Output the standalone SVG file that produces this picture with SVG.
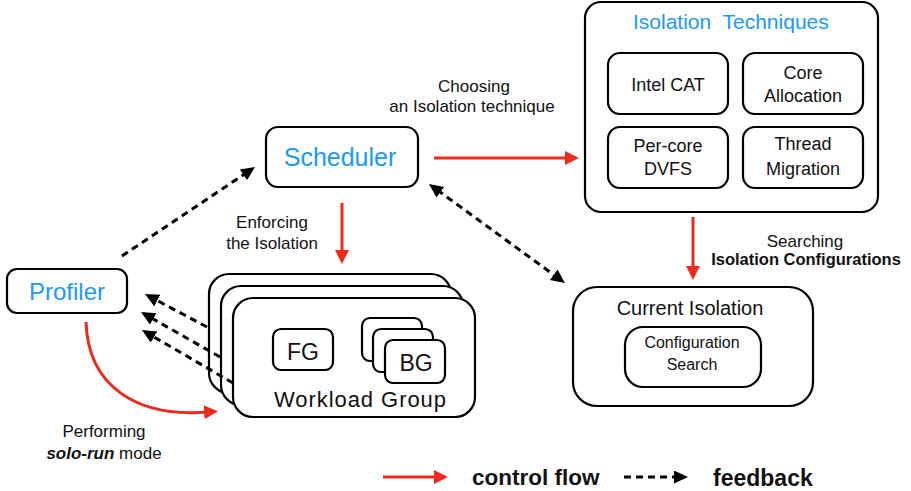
<svg xmlns="http://www.w3.org/2000/svg" width="911" height="491" viewBox="0 0 911 491">
  <style>
    text { font-family: "Liberation Sans", Arial, sans-serif; fill: #111; }
    .box { fill: #fff; stroke: #000; stroke-width: 2.2; }
    .title { fill: #1a9af5; }
    .lbl { font-size: 17px; }
    .mid { text-anchor: middle; }
    .ctrl { fill: none; stroke: #ec2a1d; stroke-width: 3; }
    .fb { fill: none; stroke: #000; stroke-width: 3; stroke-dasharray: 7 5; }
  </style>
  <defs>
    <marker id="redHead" markerUnits="userSpaceOnUse" markerWidth="16" markerHeight="16" refX="4" refY="7" orient="auto">
      <path d="M0,0 L14,7 L0,14 z" fill="#ec2a1d"/>
    </marker>
    <marker id="blackHead" markerUnits="userSpaceOnUse" markerWidth="16" markerHeight="16" refX="4" refY="6.5" orient="auto-start-reverse">
      <path d="M0,0 L14,6.5 L0,13 z" fill="#000"/>
    </marker>
  </defs>

  <!-- Scheduler -->
  <g id="scheduler">
    <rect class="box" x="266" y="127" width="152" height="60" rx="12"/>
    <text class="title mid" x="340" y="166" font-size="25">Scheduler</text>
  </g>

  <!-- Profiler -->
  <g id="profiler">
    <rect class="box" x="7" y="269" width="120" height="44" rx="10"/>
    <text class="title mid" x="67" y="300" font-size="24">Profiler</text>
  </g>

  <!-- Isolation techniques -->
  <g id="isolation-techniques">
    <rect class="box" x="585" y="2" width="293" height="210" rx="16"/>
    <text class="title" x="633" y="29" font-size="21" xml:space="preserve">Isolation  Techniques</text>
    <rect class="box" x="608" y="53" width="120" height="61" rx="12"/>
    <text class="mid" x="668" y="91" font-size="18">Intel CAT</text>
    <rect class="box" x="743" y="53" width="120" height="61" rx="12"/>
    <text class="mid" x="803" y="79" font-size="18">Core</text>
    <text class="mid" x="803" y="102" font-size="18">Allocation</text>
    <rect class="box" x="608" y="127" width="120" height="61" rx="12"/>
    <text class="mid" x="668" y="152" font-size="18">Per-core</text>
    <text class="mid" x="668" y="175" font-size="18">DVFS</text>
    <rect class="box" x="743" y="127" width="120" height="61" rx="12"/>
    <text class="mid" x="803" y="150" font-size="18">Thread</text>
    <text class="mid" x="803" y="175" font-size="18">Migration</text>
  </g>

  <!-- Workload group (stacked) -->
  <g id="workload-group">
    <rect class="box" x="209" y="274" width="242" height="119" rx="20"/>
    <rect class="box" x="221" y="286" width="242" height="119" rx="20"/>
    <rect class="box" x="233" y="298" width="242" height="119" rx="20"/>
    <rect class="box" x="273" y="329" width="60" height="41" rx="8"/>
    <text class="mid" x="303" y="360" font-size="23">FG</text>
    <rect class="box" x="362" y="318" width="60" height="43" rx="8"/>
    <rect class="box" x="373" y="329" width="60" height="43" rx="8"/>
    <rect class="box" x="385" y="340" width="60" height="43" rx="8"/>
    <text class="mid" x="416" y="371" font-size="23">BG</text>
    <text x="274" y="407" font-size="22" textLength="172" lengthAdjust="spacing">Workload Group</text>
  </g>

  <!-- Current isolation -->
  <g id="current-isolation">
    <rect class="box" x="573" y="287" width="240" height="119" rx="24"/>
    <text class="mid" x="690" y="315" font-size="20">Current Isolation</text>
    <rect class="box" x="625" y="327" width="136" height="60" rx="18"/>
    <text class="mid" x="692" y="348" font-size="16">Configuration</text>
    <text class="mid" x="692" y="370" font-size="16">Search</text>
  </g>

  <!-- Connectors -->
  <g id="connectors">
    <line class="ctrl" x1="434" y1="158" x2="569" y2="158" marker-end="url(#redHead)"/>
    <line class="ctrl" x1="342" y1="203" x2="342" y2="254" marker-end="url(#redHead)"/>
    <line class="ctrl" x1="693" y1="217" x2="693" y2="270" marker-end="url(#redHead)"/>
    <path class="ctrl" d="M86,322 C88,385 135,418 208,412" marker-end="url(#redHead)"/>

    <line class="fb" x1="122" y1="256" x2="246.7" y2="172.6" marker-end="url(#blackHead)"/>
    <line class="fb" x1="437.1" y1="189.9" x2="556.9" y2="277.1" marker-start="url(#blackHead)" marker-end="url(#blackHead)"/>
    <line class="fb" x1="207" y1="327" x2="153.8" y2="298.7" marker-end="url(#blackHead)"/>
    <line class="fb" x1="220" y1="357" x2="149.7" y2="317" marker-end="url(#blackHead)"/>
    <line class="fb" x1="233" y1="383" x2="150.6" y2="335" marker-end="url(#blackHead)"/>
  </g>

  <!-- Connector labels -->
  <g id="labels">
    <text class="lbl mid" x="474" y="92">Choosing</text>
    <text class="lbl mid" x="472" y="112">an Isolation technique</text>
    <text class="lbl mid" x="272" y="228">Enforcing</text>
    <text class="lbl mid" x="272" y="249">the Isolation</text>
    <text class="lbl mid" x="805" y="247">Searching</text>
    <text class="mid" x="806" y="265" font-size="16.5" font-weight="bold">Isolation Configurations</text>
    <text class="lbl mid" x="104" y="437">Performing</text>
    <text class="lbl mid" x="104" y="459"><tspan font-weight="bold" font-style="italic">solo-run</tspan> mode</text>
  </g>

  <!-- Legend -->
  <g id="legend">
    <line class="ctrl" x1="383" y1="477" x2="438" y2="477" marker-end="url(#redHead)"/>
    <text x="472" y="485" font-size="22.5" font-weight="bold">control flow</text>
    <line class="fb" x1="624" y1="477" x2="678" y2="477" marker-end="url(#blackHead)"/>
    <text x="713" y="486" font-size="23" font-weight="bold">feedback</text>
  </g>
</svg>
